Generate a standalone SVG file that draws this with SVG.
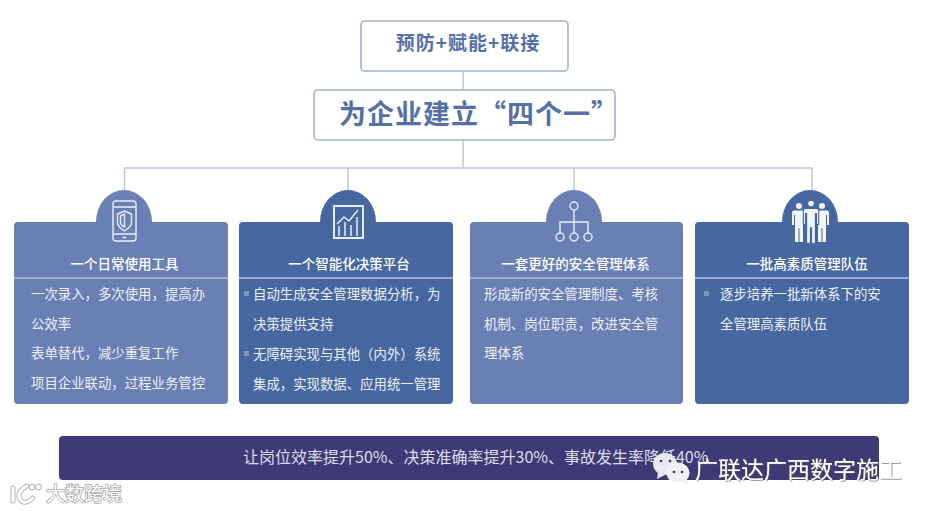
<svg xmlns="http://www.w3.org/2000/svg" width="933" height="511" viewBox="0 0 933 511">
<defs>
<style>
text{font-family:"Noto Sans CJK SC","Noto Sans",sans-serif}
.box{fill:#fff;stroke:#a3b0d0;stroke-width:1.6}
.head{fill:#5570a6;font-weight:700;text-anchor:middle}
.c1{fill:#6a80b5}.c2{fill:#46679f}
.t{fill:#fff;font-size:13.5px;font-weight:500;text-anchor:middle}
.b{fill:#edf1f8;font-size:13.400px}
.div{stroke:#b3c0dc;stroke-width:1.4}
.ic{fill:none;stroke:#e8eef8;stroke-width:1.4}
.conn{fill:none;stroke:#bcc5de;stroke-width:1.4}
.bul{fill:#7f95c4}
</style>
<filter id="sh" x="-5%" y="-20%" width="110%" height="140%"><feDropShadow dx=".6" dy=".6" stdDeviation=".4" flood-color="#555"/></filter>
<g id="person"><circle cx="0" cy="-19" r="3"/><path d="M-5-14.500h10q2 0 2 2v12.500h-2v-10h-1v27h-3.500v-14h-1v14h-3.500v-27h-1v10h-2v-12.500q0-2 2-2z"/></g>
</defs>
<rect width="933" height="511" fill="#fff"/>
<g id="connectors" class="conn">
<path d="M463 71V90M463 140V168M124.500 168H812M124.500 168V191M348 168V191M574 168V191M812 168V191"/>
</g>
<g id="node-top"><rect class="box" x="361" y="21" width="207" height="50" rx="4"/><text class="head" x="468" y="50" font-size="19" letter-spacing="1">预防+赋能+联接</text></g>
<g id="node-main"><rect class="box" x="314" y="90" width="301" height="50" rx="4"/><text class="head" x="479" y="124" font-size="27" letter-spacing="1">为企业建立“四个一”</text></g>
<g id="card-1">
<path class="c1" d="M14 226q0-4 4-4h78a28 32 0 0 1 56 0h72q4 0 4 4v174q0 4-4 4H18q-4 0-4-4z"/>
<line class="div" x1="14" y1="278" x2="228" y2="278"/>
<g class="ic"><rect x="113" y="201" width="23" height="40" rx="3"/><path d="M113 207H136M113 234H136M122.500 237.500H126.500"/><path d="M124.500 211l7 3v8q0 5-7 9q-7-4-7-9v-8z"/><path d="M124.500 214l-4 2v6q0 3 4 5z"/></g>
<text class="t" x="124.500" y="269">一个日常使用工具</text>
<g class="b"><text x="31" y="299">一次录入，多次使用，提高办</text><text x="31" y="329">公效率</text><text x="31" y="358">表单替代，减少重复工作</text><text x="31" y="388">项目企业联动，过程业务管控</text></g>
</g>
<g id="card-2">
<path class="c2" d="M239 226q0-4 4-4h77a28 32 0 0 1 56 0h73q4 0 4 4v174q0 4-4 4H243q-4 0-4-4z"/>
<line class="div" x1="239" y1="278" x2="453" y2="278"/>
<g class="ic"><rect x="334" y="206" width="29" height="32" stroke-width="2"/><path d="M337 224l7-7 5 4 9-11M339 236v-10M345 236v-14M351 236v-11M357 236v-19" stroke-width="1.500"/></g>
<text class="t" x="349" y="269">一个智能化决策平台</text>
<rect class="bul" x="244" y="291" width="5" height="5"/><rect class="bul" x="244" y="351" width="5" height="5"/>
<g class="b"><text x="253" y="299">自动生成安全管理数据分析，为</text><text x="253" y="329">决策提供支持</text><text x="253" y="359">无障碍实现与其他（内外）系统</text><text x="253" y="389">集成，实现数据、应用统一管理</text></g>
</g>
<g id="card-3">
<path class="c1" d="M470 226q0-4 4-4h72a28 32 0 0 1 56 0h77q4 0 4 4v174q0 4-4 4H474q-4 0-4-4z"/>
<line class="div" x1="470" y1="278" x2="683" y2="278"/>
<g class="ic"><circle cx="574" cy="206" r="4"/><circle cx="560" cy="237" r="4"/><circle cx="574" cy="237" r="4"/><circle cx="588" cy="237" r="4"/><path d="M574 210V233M560 233V222H588V233"/></g>
<text class="t" x="575.500" y="269">一套更好的安全管理体系</text>
<g class="b"><text x="484" y="299">形成新的安全管理制度、考核</text><text x="484" y="329">机制、岗位职责，改进安全管</text><text x="484" y="358">理体系</text></g>
</g>
<g id="card-4">
<path class="c2" d="M695 226q0-4 4-4h83a28 32 0 0 1 56 0h67q4 0 4 4v174q0 4-4 4H699q-4 0-4-4z"/>
<line class="div" x1="695" y1="278" x2="909" y2="278"/>
<g fill="#f2f5fb"><use href="#person" transform="translate(799 225)"/><use href="#person" transform="translate(822 225)"/><g stroke="#46679f" stroke-width="1"><use href="#person" transform="translate(811 224.500) scale(1.100)"/></g></g>
<text class="t" x="807" y="269">一批高素质管理队伍</text>
<rect class="bul" x="704" y="291" width="5" height="5"/>
<g class="b"><text x="720" y="299">逐步培养一批新体系下的安</text><text x="720" y="329">全管理高素质队伍</text></g>
</g>
<g id="banner">
<rect x="59" y="436" width="820" height="44" rx="4" fill="#3f3a75"/>
<text x="243" y="463" font-size="16" fill="#dcdcec">让岗位效率提升50%、决策准确率提升30%、事故发生率降低40%</text>
</g>
<g id="watermark-1" fill="none">
<path d="M13 488v13M27 486q-11 6-7 13t13-1" stroke="#b5b5b5" stroke-width="5" stroke-linecap="round"/><path d="M13 488v13M27 486q-11 6-7 13t13-1" stroke="#fff" stroke-width="3" stroke-linecap="round"/>
<circle cx="32" cy="487" r="3" fill="#fff" stroke="#aaa"/><circle cx="38.500" cy="487" r="3" fill="#fff" stroke="#aaa"/>
<text x="46" y="501" font-size="19" fill="#fff" stroke="#a8a8a8" stroke-width="1.600" paint-order="stroke">大数跨境</text>
</g>
<g id="watermark-2">
<ellipse cx="665" cy="464" rx="12" ry="11" fill="#e8e8f2"/><path d="M658 472l-1 7 8-4z" fill="#e8e8f2"/>
<ellipse cx="678" cy="473" rx="11" ry="10" fill="#f0f0f6" stroke="#fff"/><path d="M682 481l6 4-1-6z" fill="#f0f0f6"/>
<g fill="#33335a"><circle cx="661" cy="461" r="1.300"/><circle cx="670" cy="461" r="1.300"/><circle cx="674" cy="472" r="1.300"/><circle cx="682" cy="472" r="1.300"/></g>
<text x="695" y="478" font-size="23" fill="#fff" filter="url(#sh)">广联达广西数字施工</text>
</g>
</svg>
